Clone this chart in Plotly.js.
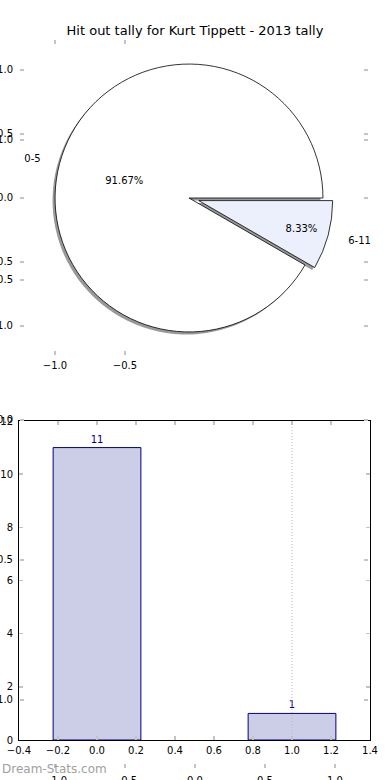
<!DOCTYPE html>
<html><head><meta charset="utf-8">
<script src="https://cdn.plot.ly/plotly-3.0.1.min.js"></script>
<style>html,body{margin:0;padding:0;background:#fff}#chart{width:390px;height:780px}</style>
</head><body><div id="chart"></div>
<script>
// ---- data ----
const titleText = 'Hit out tally for Kurt Tippett - 2013 tally';
const pieLabels = ['0-5', '6-11'];
const pieValues = [11, 1];
const pieColors = ['#ffffff', '#ebf0fc'];
const piePull = [0, 0.075];
const barX = [0, 1];
const barY = [11, 1];
const highlightX = 1;
const barTicksX = [-0.4, -0.2, 0, 0.2, 0.4, 0.6, 0.8, 1.0, 1.2, 1.4];
const barTicksY = [0, 2, 4, 6, 8, 10, 12];
const ghostTicks = [-1, -0.5, 0, 0.5, 1];
const ghostTicksLeft = [-1, -0.5];
const watermark = 'Dream-Stats.com';

// ---- geometry helpers ----
const W = 390, H = 780;
const fx = p => p / W;
const fy = p => 1 - p / H;

const pieBox = {x0: 45, x1: 333, y0: 54, y1: 342};
const labelBox = {x0: 27, x1: 351, y0: 36, y1: 360};
const sh = 2.5;

const pieCommon = {
  type: 'pie', labels: pieLabels, values: pieValues, sort: false,
  direction: 'clockwise', rotation: 120, pull: piePull,
  hoverinfo: 'none', showlegend: false
};

const traces = [
  Object.assign({}, pieCommon, {
    domain: {x: [fx(pieBox.x0 - sh), fx(pieBox.x1 - sh)], y: [fy(pieBox.y1 + sh), fy(pieBox.y0 + sh)]},
    marker: {colors: ['rgba(0,0,0,0.4)', 'rgba(0,0,0,0.4)'], line: {width: 0}},
    textinfo: 'none'
  }),
  Object.assign({}, pieCommon, {
    domain: {x: [fx(pieBox.x0), fx(pieBox.x1)], y: [fy(pieBox.y1), fy(pieBox.y0)]},
    marker: {colors: pieColors, line: {color: '#000', width: 0.8}},
    texttemplate: '%{percent:.2%}', textposition: 'inside',
    insidetextorientation: 'horizontal',
    textfont: {family: 'DejaVu Sans', size: 10, color: '#000'}
  }),
  Object.assign({}, pieCommon, {
    domain: {x: [fx(labelBox.x0), fx(labelBox.x1)], y: [fy(labelBox.y1), fy(labelBox.y0)]},
    marker: {colors: ['rgba(0,0,0,0)', 'rgba(0,0,0,0)'], line: {width: 0}},
    textinfo: 'label', textposition: 'outside',
    outsidetextfont: {family: 'DejaVu Sans', size: 10, color: '#000'}
  }),
  {
    type: 'bar', x: barX, y: barY, width: 0.45, xaxis: 'x', yaxis: 'y',
    marker: {color: '#cccde6', line: {color: '#000080', width: 1}},
    texttemplate: '%{y}', textposition: 'outside', cliponaxis: false,
    textfont: {family: 'DejaVu Sans', size: 10, color: '#000080'},
    hoverinfo: 'none', showlegend: false
  }
];

const tickStyle = {ticks: 'inside', ticklen: 4, tickwidth: 1.5, tickcolor: '#c4c4c4',
  showgrid: false, zeroline: false, tickfont: {family: 'DejaVu Sans', size: 10, color: '#000'}};

const layout = {
  width: W, height: H,
  margin: {l: 0, r: 0, t: 0, b: 0, pad: 0},
  paper_bgcolor: '#fff', plot_bgcolor: 'rgba(0,0,0,0)',
  font: {family: 'DejaVu Sans', size: 10, color: '#000'},
  showlegend: false,
  title: {text: titleText, x: 0.5, xanchor: 'center', y: fy(30), yanchor: 'middle',
    font: {family: 'DejaVu Sans', size: 13, color: '#000'}},
  // bar chart axes
  xaxis: Object.assign({}, tickStyle, {domain: [fx(19), fx(370)], range: [-0.4, 1.4],
    tickvals: barTicksX, tickformat: '.1f', showline: true, linecolor: '#000', linewidth: 1,
    mirror: 'ticks', anchor: 'y', ticklabelstandoff: 1}),
  yaxis: Object.assign({}, tickStyle, {domain: [fy(740), fy(421)], range: [0, 12],
    tickvals: barTicksY, tickformat: 'd', showline: true, linecolor: '#000', linewidth: 1,
    mirror: 'ticks', anchor: 'x', ticklabelstandoff: 3}),
  // ghost pie axes
  xaxis2: Object.assign({}, tickStyle, {domain: [fx(20), fx(368)], range: [-1.25, 1.236],
    tickvals: ghostTicksLeft, tickformat: '.1f', showline: false, mirror: 'ticks', anchor: 'y2',
    ticklabelstandoff: 3}),
  yaxis2: Object.assign({}, tickStyle, {domain: [fy(355), fy(40)], range: [-1.227, 1.234],
    tickvals: ghostTicks, tickformat: '.1f', showline: false, mirror: 'ticks', anchor: 'x2',
    ticklabelstandoff: 6}),
  // ghost figure axes
  xaxis3: Object.assign({}, tickStyle, {domain: [fx(20), fx(368)], range: [-1.25, 1.236],
    tickvals: ghostTicks, tickformat: '.1f', showline: false, anchor: 'y3',
    ticklabelstandoff: 5}),
  yaxis3: Object.assign({}, tickStyle, {domain: [fy(768), fy(40)], range: [-1.243, 1.357],
    tickvals: ghostTicks, tickformat: '.1f', showline: false, mirror: 'ticks', anchor: 'x3',
    ticklabelstandoff: 6}),
  shapes: [{type: 'line', xref: 'x', yref: 'y domain', x0: highlightX, x1: highlightX, y0: 0, y1: 1,
    line: {color: '#bbbbbb', width: 1, dash: '1px,2px'}, layer: 'above'}],
  annotations: [{text: watermark, xref: 'paper', yref: 'paper', x: 0, xanchor: 'left',
    y: fy(769), yanchor: 'middle', showarrow: false,
    font: {family: 'DejaVu Sans', size: 12, color: '#a0a0a0'}}]
};

// invisible anchor traces so ghost axes render
traces.unshift({type: 'scatter', x: [], y: [], xaxis: 'x2', yaxis: 'y2', hoverinfo: 'none', showlegend: false});
traces.unshift({type: 'scatter', x: [], y: [], xaxis: 'x3', yaxis: 'y3', hoverinfo: 'none', showlegend: false});

Plotly.newPlot('chart', traces, layout, {staticPlot: true, displayModeBar: false});
</script>
</body></html>
